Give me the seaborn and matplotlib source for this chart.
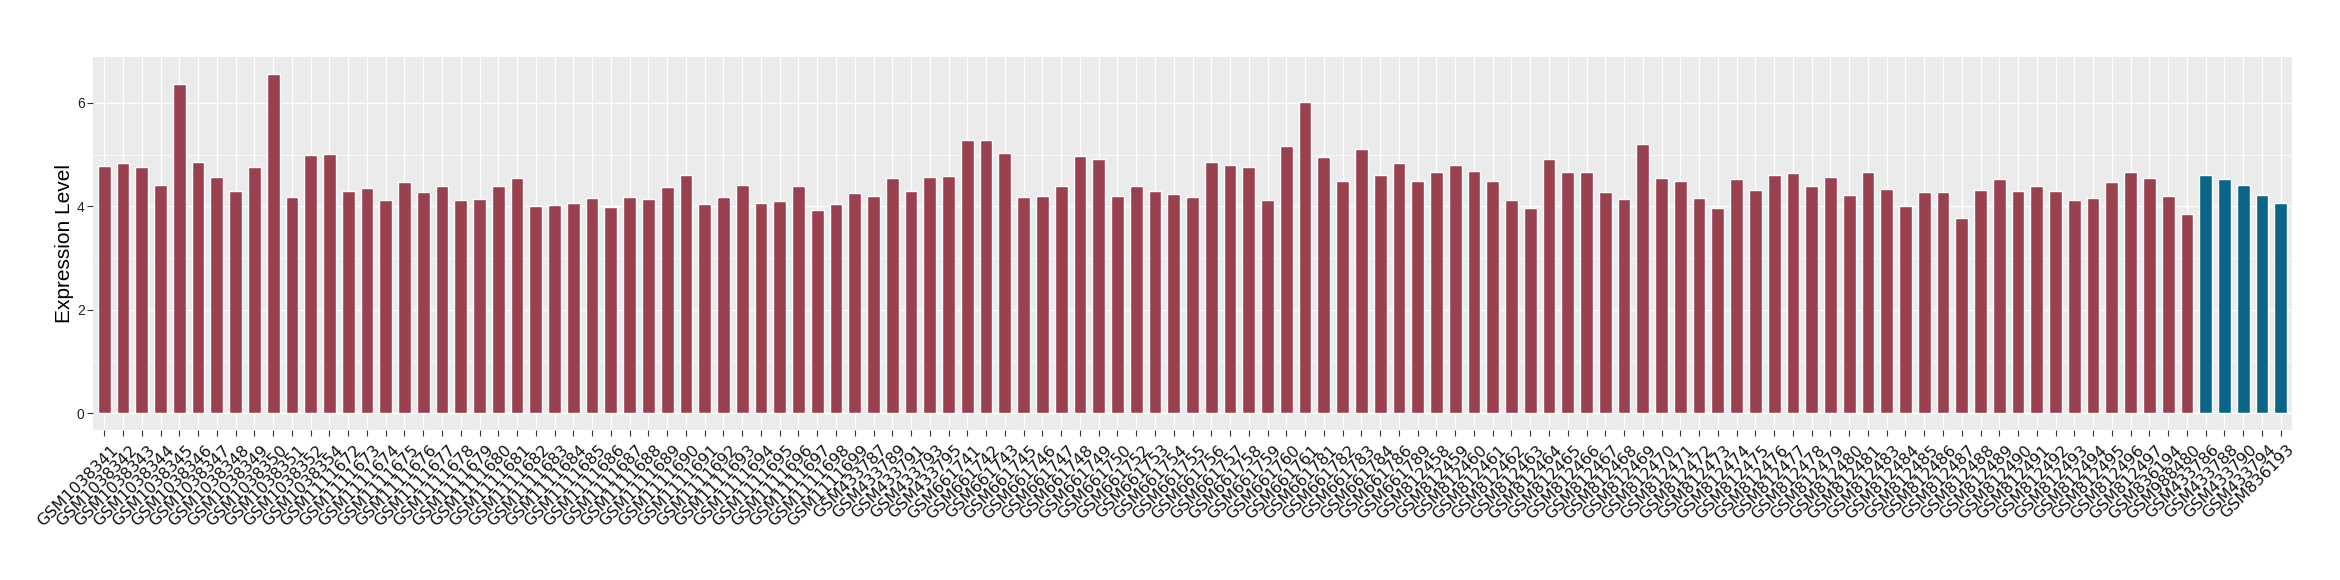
import matplotlib
matplotlib.use("Agg")
import matplotlib.pyplot as plt
from matplotlib.ticker import FixedLocator
from matplotlib.transforms import ScaledTranslation
import pandas as pd
import seaborn as sns

labels = [
    "GSM1038341", "GSM1038342", "GSM1038343", "GSM1038344", "GSM1038345", "GSM1038346",
    "GSM1038347", "GSM1038348", "GSM1038349", "GSM1038350", "GSM1038351", "GSM1038352",
    "GSM1038354",
    "GSM1111672", "GSM1111673", "GSM1111674", "GSM1111675", "GSM1111676", "GSM1111677",
    "GSM1111678", "GSM1111679", "GSM1111680", "GSM1111681", "GSM1111682", "GSM1111683",
    "GSM1111684", "GSM1111685", "GSM1111686", "GSM1111687", "GSM1111688", "GSM1111689",
    "GSM1111690", "GSM1111691", "GSM1111692", "GSM1111693", "GSM1111694", "GSM1111695",
    "GSM1111696", "GSM1111697", "GSM1111698", "GSM1111699",
    "GSM433787", "GSM433789", "GSM433791", "GSM433793", "GSM433795",
    "GSM661741", "GSM661742", "GSM661743", "GSM661745", "GSM661746", "GSM661747",
    "GSM661748", "GSM661749", "GSM661750", "GSM661752", "GSM661753", "GSM661754",
    "GSM661755", "GSM661756", "GSM661757", "GSM661758", "GSM661759", "GSM661760",
    "GSM661761", "GSM661781", "GSM661782", "GSM661783", "GSM661784", "GSM661786",
    "GSM661789",
    "GSM812458", "GSM812459", "GSM812460", "GSM812461", "GSM812462", "GSM812463",
    "GSM812464", "GSM812465", "GSM812466", "GSM812467", "GSM812468", "GSM812469",
    "GSM812470", "GSM812471", "GSM812472", "GSM812473", "GSM812474", "GSM812475",
    "GSM812476", "GSM812477", "GSM812478", "GSM812479", "GSM812480", "GSM812481",
    "GSM812483", "GSM812484", "GSM812485", "GSM812486", "GSM812487", "GSM812488",
    "GSM812489", "GSM812490", "GSM812491", "GSM812492", "GSM812493", "GSM812494",
    "GSM812495", "GSM812496", "GSM812497",
    "GSM836194", "GSM988480",
    "GSM433786", "GSM433788", "GSM433790", "GSM433794", "GSM836193",
]

values = [
    4.78, 4.83, 4.76, 4.41, 6.37, 4.85, 4.56, 4.29, 4.76, 6.56, 4.18, 4.99, 5.01, 4.29, 4.35, 4.12, 4.47, 4.28, 4.39, 4.12,
    4.14, 4.39, 4.54, 4.01, 4.03, 4.06, 4.16, 3.99, 4.18, 4.14, 4.37, 4.60, 4.04, 4.18, 4.41, 4.06, 4.10, 4.39, 3.93, 4.04,
    4.26, 4.20, 4.54, 4.29, 4.56, 4.58, 5.29, 5.29, 5.04, 4.18, 4.20, 4.39, 4.97, 4.91, 4.20, 4.39, 4.29, 4.24, 4.18, 4.85,
    4.79, 4.76, 4.12, 5.16, 6.01, 4.95, 4.49, 5.10, 4.60, 4.83, 4.49, 4.66, 4.79, 4.68, 4.49, 4.12, 3.97, 4.91, 4.66, 4.66,
    4.28, 4.14, 5.20, 4.54, 4.49, 4.16, 3.97, 4.53, 4.31, 4.60, 4.64, 4.39, 4.56, 4.22, 4.66, 4.33, 4.01, 4.28, 4.28, 3.78,
    4.31, 4.53, 4.29, 4.39, 4.29, 4.12, 4.16, 4.47, 4.66, 4.54, 4.20, 3.85, 4.60, 4.53, 4.41, 4.22, 4.06,
]

groups = ["other"] * 112 + ["highlight"] * 5
palette = {"other": "#9A4150", "highlight": "#0B6588"}
y_ticks = [0, 2, 4, 6]
y_label = "Expression Level"

df = pd.DataFrame({"sample": labels, "value": values, "group": groups})

sns.set_style("darkgrid", {"axes.facecolor": "#EBEBEB", "grid.color": "white"})

W, H = 2340, 580
fig = plt.figure(figsize=(W / 100, H / 100), dpi=100)
ax = fig.add_axes([93 / W, 1 - 430 / H, (2292 - 93) / W, (430 - 57) / H])

sns.barplot(data=df, x="sample", y="value", hue="group", order=labels,
            palette=palette, dodge=False, width=0.68, legend=False,
            saturation=1, ax=ax)

n = len(labels)
ax.set_xlim(-0.6, n - 1 + 0.6)
ax.set_ylim(-0.328, 6.888)
ax.yaxis.set_major_locator(FixedLocator(y_ticks))
ax.yaxis.set_minor_locator(FixedLocator([1, 3, 5]))
ax.grid(which="major", axis="both", color="white", linewidth=1.0)
ax.grid(which="minor", axis="y", color="white", linewidth=0.5)
ax.set_axisbelow(True)
for s in ax.spines.values():
    s.set_visible(False)

ax.tick_params(axis="both", which="major", length=4, width=0.8, color="#333333",
               pad=2, bottom=True, left=True)
ax.tick_params(axis="y", which="minor", length=0)
ax.set_yticklabels([str(t) for t in y_ticks], fontsize=10, family="Liberation Sans",
                   color="#222222")
ax.set_xticks(range(n))
ax.set_xticklabels(labels, rotation=45, ha="right", va="top", rotation_mode="anchor",
                   fontsize=11.5, family="DejaVu Sans", color="#111111")
offset = ScaledTranslation(6 / 100, -4 / 100, fig.dpi_scale_trans)
for lab in ax.get_xticklabels():
    lab.set_transform(lab.get_transform() + offset)

ax.set_xlabel("")
ax.set_ylabel(y_label, fontsize=15, family="Liberation Sans", color="black")
ax.yaxis.set_label_coords(-0.0085, 0.5)

fig.savefig("out.png", dpi=100, facecolor="white")
